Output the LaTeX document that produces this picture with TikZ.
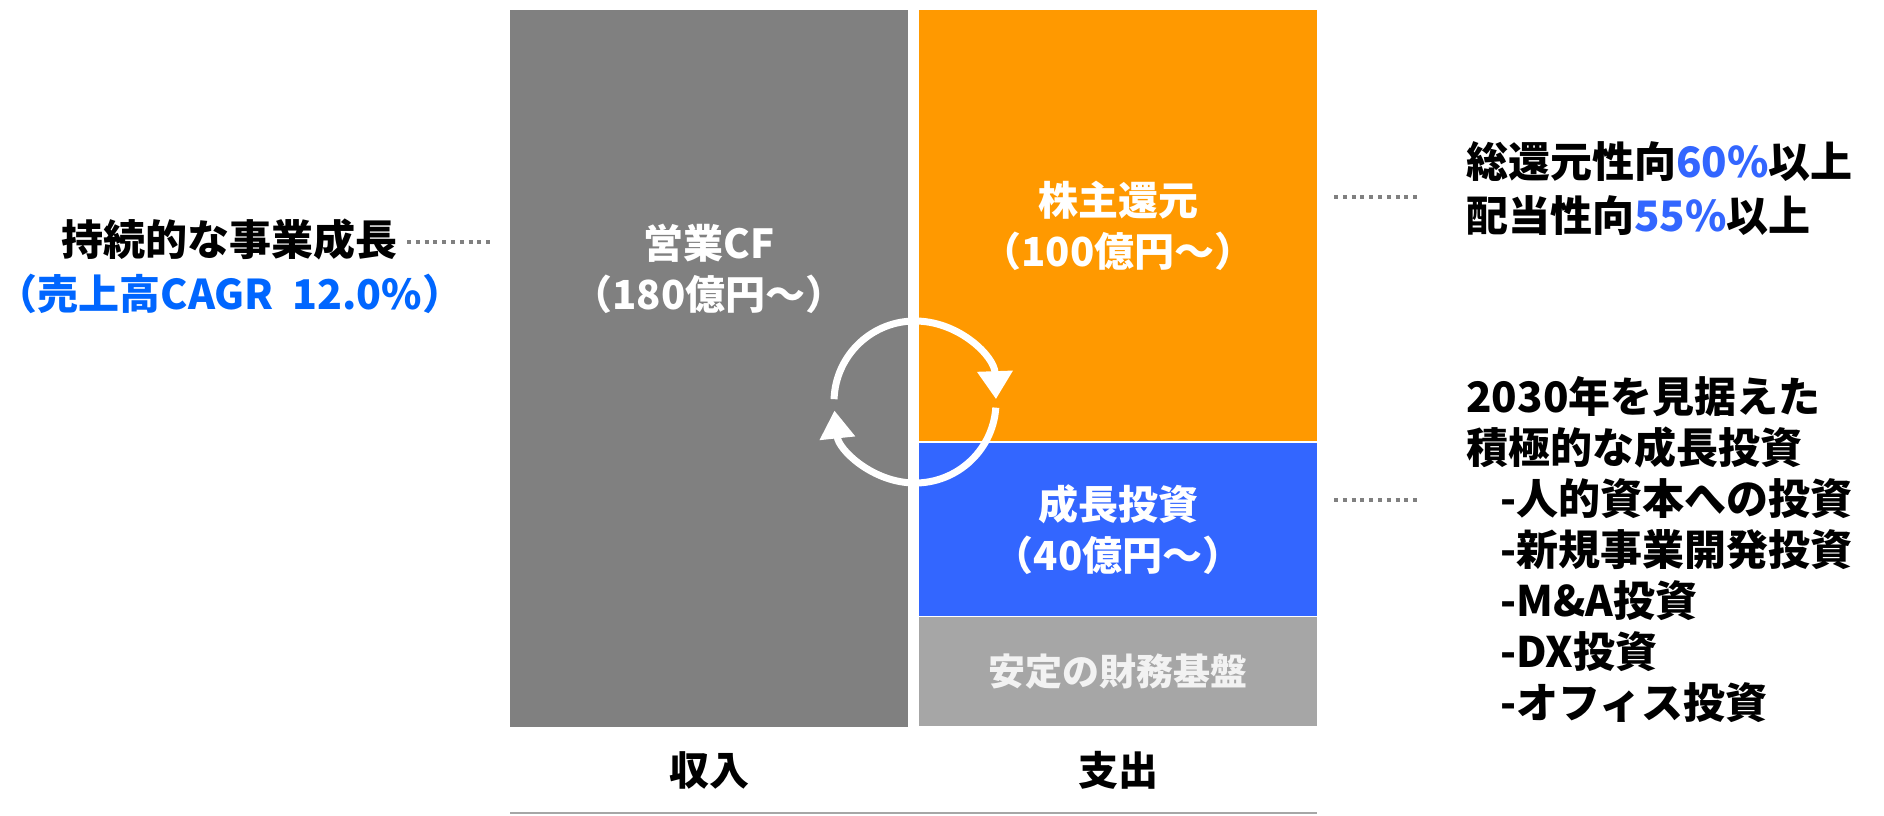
\documentclass[tikz,border=0pt]{standalone}
\usepackage{fontspec}
\setmainfont{Noto Sans CJK JP}
\usetikzlibrary{arrows.meta}
\definecolor{cfgray}{HTML}{808080}
\definecolor{retorange}{HTML}{FF9900}
\definecolor{invblue}{HTML}{3366FF}
\definecolor{basegray}{HTML}{A6A6A6}
\definecolor{cagrblue}{HTML}{0066FF}
\definecolor{basetext}{HTML}{F2F2F2}
\begin{document}
\begin{tikzpicture}[x=0.5pt,y=0.5pt,
    blk/.style={inner sep=0pt, outer sep=0pt, anchor=south west},
    lbl/.style={font=\bfseries\fontsize{20pt}{25.5pt}\selectfont, text=white, align=center},
    rt/.style={font=\bfseries\fontsize{21pt}{27pt}\selectfont, align=left, inner sep=0pt, anchor=west},
    dots/.style={draw=cfgray, line width=2pt, dash pattern=on 2pt off 2.4pt},
    cyc/.style={draw=white, line width=3.5pt, -{Triangle[width=17pt,length=14pt]}}]
    \useasboundingbox (0,0) rectangle (1884,815);
      \node[blk, fill=cfgray, minimum width=199pt, minimum height=358.5pt] (inc) at (510,88) {};
      \node[blk, fill=retorange, minimum width=199pt, minimum height=215.5pt] (ret) at (919,374) {};
      \node[blk, fill=invblue, minimum width=199pt, minimum height=86.5pt] (inv) at (919,199) {};
      \node[blk, fill=basegray, minimum width=199pt, minimum height=54.5pt] (base) at (919,89) {};
      \node[lbl] (cf) at (709,546) {営業CF\\（180億円～）};
      \node[lbl] (rettxt) at (ret.center) {株主還元\\（100億円～）};
      \node[lbl] (invtxt) at (inv.center) {成長投資\\（40億円～）};
      \node[lbl, text=basetext, font=\bfseries\fontsize{18.5pt}{22pt}\selectfont] (basetxt) at (base.center) {安定の財務基盤};
      \coordinate (hub) at (915,413);
      \draw[cyc] ([shift={(178:40.5pt)}]hub) arc[start angle=178, end angle=2, radius=40.5pt];
      \draw[cyc] ([shift={(-4:40.5pt)}]hub) arc[start angle=-4, end angle=-174, radius=40.5pt];
      \node[font=\bfseries\fontsize{20pt}{24pt}\selectfont] (income) at (709,45) {収入};
      \node[font=\bfseries\fontsize{20pt}{24pt}\selectfont] (spend) at (1118,45) {支出};
      \draw[basegray, line width=1.2pt] (510,2) -- (1317,2);
      \node[font=\bfseries\fontsize{21pt}{27pt}\selectfont, align=center, inner sep=0pt] (goal) at (230,549) {持続的な事業成長\\\fontsize{20.5pt}{27pt}\selectfont\textcolor{cagrblue}{（売上高CAGR\hspace{0.45em}12.0\%）}};
      \node[rt] (policy) at (1466,626) {総還元性向\textcolor{invblue}{60\%}以上\\配当性向\textcolor{invblue}{55\%}以上};
      \node[rt, font=\bfseries\fontsize{21pt}{25.5pt}\selectfont] (plan) at (1466,265) {2030年を見据えた\\積極的な成長投資\\\hspace*{17pt}-人的資本への投資\\\hspace*{17pt}-新規事業開発投資\\\hspace*{17pt}-M\&A投資\\\hspace*{17pt}-DX投資\\\hspace*{17pt}-オフィス投資};
      \draw[dots] (407,573) -- (493,573);
      \draw[dots] (1334,618) -- (1418,618);
      \draw[dots] (1334,315) -- (1418,315);
    \end{tikzpicture}
\end{document}
